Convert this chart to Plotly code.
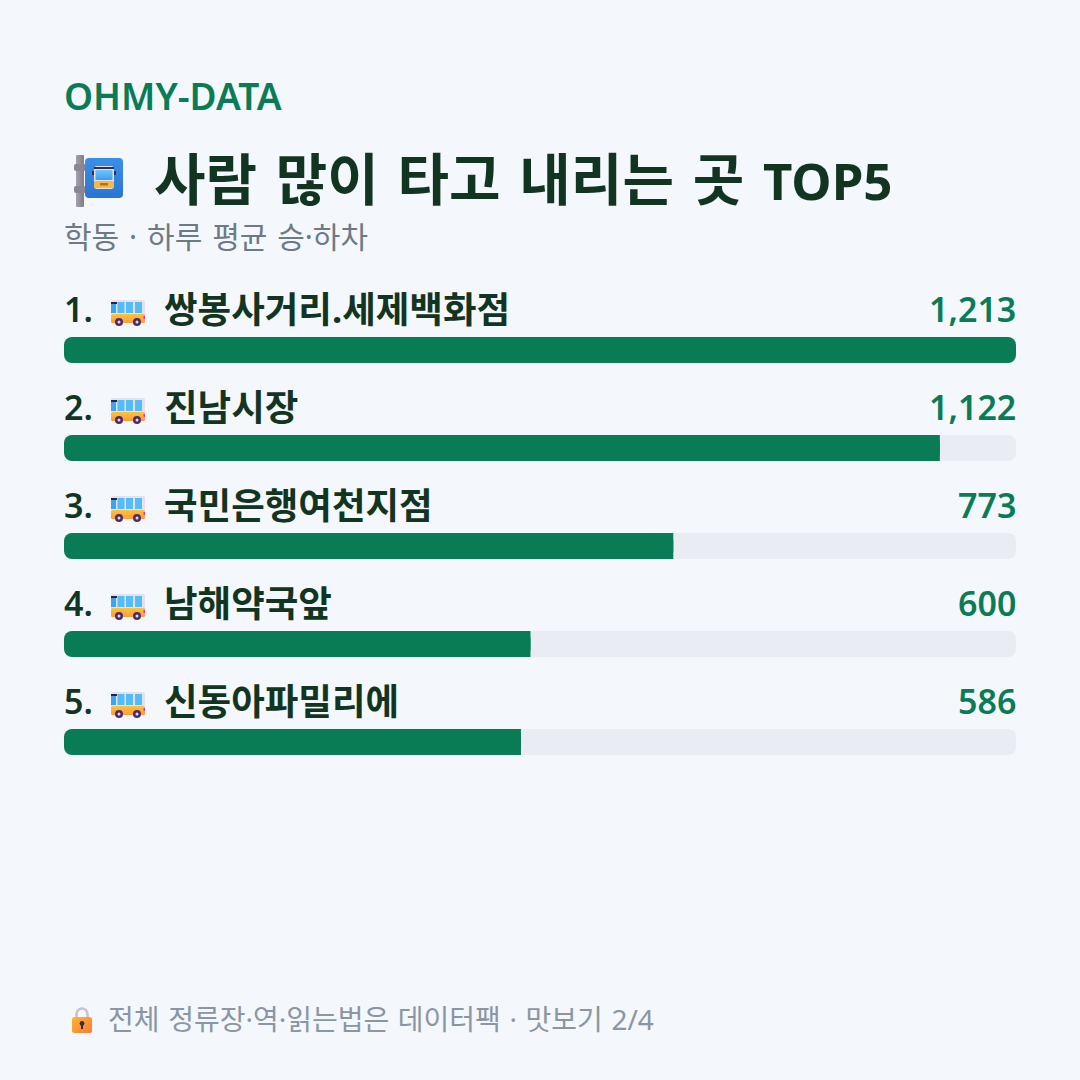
import base64
import plotly.graph_objects as go

# Stop data
ranks = ["1.", "2.", "3.", "4.", "5."]
stops = ["쌍봉사거리.세제백화점", "진남시장", "국민은행여천지점", "남해약국앞", "신동아파밀리에"]
riders = [1213, 1122, 773, 600, 586]

brand = "OHMY-DATA"
title_words = ["사람", "많이", "타고", "내리는", "곳"]
title_tail = "TOP5"
subtitle_words = ["학동", "·", "하루", "평균", "승·하차"]
footer_words = ["전체", "정류장·역·읽는법은", "데이터팩", "·", "맛보기", "2/4"]

BG = "#f4f7fc"
TRACK = "#e9edf3"
GREEN = "#0a7c55"
INK = "#123522"
FONT = "'Noto Sans', 'Noto Sans CJK KR', sans-serif"

W = H = 1080
LEFT, RIGHT = 64, 1016
ROW0, STEP, BAR_H, RADIUS = 350, 98, 26, 8
SQUARE_END = 2  # share units, wide enough to hide the rounding at the end of a fill

# Bars are scaled to whole percentages of the busiest stop
shares = [round(100 * v / max(riders)) for v in riders]


def px(x):
    return x / W


def py(y):
    return 1 - y / H


def spaced(words, gap_size):
    """Join words with spaces set at their own size, for wider word gaps."""
    gap = f'<span style="font-size:{gap_size}px"> </span>'
    return gap.join(words)


def svg_uri(body, vw, vh):
    svg = f'<svg xmlns="http://www.w3.org/2000/svg" viewBox="0 0 {vw} {vh}">{body}</svg>'
    return "data:image/svg+xml;base64," + base64.b64encode(svg.encode()).decode()


BUS = svg_uri(
    '<defs><linearGradient id="b" x1="0" y1="0" x2="0" y2="1"><stop offset="0" stop-color="#ffc23c"/>'
    '<stop offset="1" stop-color="#ff9a3c"/></linearGradient></defs>'
    '<rect x="0" y="0" width="34" height="18" rx="2" fill="#e6dff0"/>'
    '<rect x="0" y="14" width="34" height="9" rx="1.5" fill="url(#b)"/>'
    '<rect x="0" y="2" width="6" height="2" fill="#2c2340"/>'
    '<rect x="0" y="4" width="5" height="9" fill="#37a6f5"/>'
    '<rect x="6.5" y="2" width="7" height="11" fill="#54bdf8"/>'
    '<rect x="15" y="2" width="7" height="11" fill="#54bdf8"/>'
    '<rect x="24" y="2" width="7" height="11" fill="#54bdf8"/>'
    '<rect x="32.5" y="16" width="1.5" height="3" fill="#e0359a"/>'
    '<circle cx="8" cy="22" r="4" fill="#4a2c6e"/><circle cx="8" cy="22" r="1.5" fill="#e8d8c0"/>'
    '<circle cx="26" cy="22" r="4" fill="#4a2c6e"/><circle cx="26" cy="22" r="1.5" fill="#e8d8c0"/>',
    34, 27,
)

STOP_SIGN = svg_uri(
    '<defs><linearGradient id="p" x1="0" y1="0" x2="1" y2="0"><stop offset="0" stop-color="#a5a1ad"/>'
    '<stop offset="1" stop-color="#807c8a"/></linearGradient>'
    '<linearGradient id="s" x1="0" y1="0" x2="0" y2="1"><stop offset="0" stop-color="#3b90e6"/>'
    '<stop offset="1" stop-color="#2a74d2"/></linearGradient>'
    '<linearGradient id="g" x1="0" y1="0" x2="0" y2="1"><stop offset="0" stop-color="#6cc6fa"/>'
    '<stop offset="1" stop-color="#3f9ff0"/></linearGradient></defs>'
    '<rect x="2" y="0" width="8" height="52" rx="1" fill="url(#p)"/>'
    '<rect x="0" y="9" width="12" height="7" rx="2" fill="#8a8692"/>'
    '<rect x="0" y="31" width="12" height="7" rx="2" fill="#8a8692"/>'
    '<rect x="11" y="3" width="38" height="40" rx="4" fill="url(#s)"/>'
    '<rect x="20" y="11" width="20" height="23" rx="3" fill="#e6dff0"/>'
    '<rect x="20" y="12" width="20" height="2" fill="#3a2c50"/>'
    '<rect x="21.5" y="15" width="17" height="10" fill="url(#g)"/>'
    '<rect x="20" y="26" width="20" height="7" rx="1.5" fill="#f6b93b"/>'
    '<rect x="26" y="28" width="8" height="2.5" fill="#a8752a"/>'
    '<rect x="18" y="16" width="2" height="4" fill="#3a2c50"/>'
    '<rect x="40" y="16" width="2" height="4" fill="#3a2c50"/>',
    50, 52,
)

LOCK = svg_uri(
    '<defs><linearGradient id="l" x1="0" y1="0" x2="1" y2="1"><stop offset="0" stop-color="#ffb52e"/>'
    '<stop offset="1" stop-color="#fb7a3c"/></linearGradient></defs>'
    '<path d="M4.5 12 V7 a5.5 5.5 0 0 1 11 0 V12" fill="none" stroke="#c9c2cf" stroke-width="2.6"/>'
    '<rect x="0" y="10" width="20" height="16" rx="2.5" fill="url(#l)"/>'
    '<circle cx="10" cy="16.5" r="2.4" fill="#3a2c50"/><rect x="9" y="17" width="2" height="5" fill="#3a2c50"/>',
    20, 26,
)

fig = go.Figure()
bar_width = BAR_H / STEP

# Track, rounded at both ends
fig.add_bar(y=stops, x=[100] * 5, base=[0] * 5, orientation="h", width=bar_width,
            marker=dict(color=TRACK, cornerradius=RADIUS, line_width=0), hoverinfo="skip")

# Fill, rounded at both ends like the track
fig.add_bar(y=stops, x=shares, base=[0] * 5, orientation="h", width=bar_width,
            marker=dict(color=GREEN, cornerradius=RADIUS, line_width=0),
            customdata=riders, hovertemplate="%{y}: %{customdata:,}<extra></extra>")

# Shorter fills end square: only a fill reaching the track's end keeps the rounding
short = [(n, s) for n, s in zip(stops, shares) if s < 100]
fig.add_bar(y=[n for n, _ in short],
            x=[SQUARE_END for _ in short],
            base=[s - SQUARE_END for _, s in short],
            orientation="h", width=bar_width,
            marker=dict(color=GREEN, cornerradius=0, line_width=0), hoverinfo="skip")

annotations = []


def page_text(x, y, text, size, color, weight=400, anchor="left"):
    annotations.append(dict(xref="paper", yref="paper", x=px(x), y=py(y), text=text, showarrow=False,
                            xanchor=anchor, yanchor="middle", align=anchor,
                            font=dict(family=FONT, size=size, color=color, weight=weight)))


def row_text(cat, x, text, size, color, weight=700, anchor="left"):
    annotations.append(dict(xref="paper", yref="y", x=px(x), y=cat, yshift=41, text=text, showarrow=False,
                            xanchor=anchor, yanchor="middle", align=anchor,
                            font=dict(family=FONT, size=size, color=color, weight=weight)))


page_text(62, 95, brand, 37, GREEN, 600)
page_text(152, 172,
          spaced(title_words, 72) + f'<span style="font-size:72px"> </span><span style="font-size:51px">{title_tail}</span>',
          56, INK, 700)
page_text(62, 233, spaced(subtitle_words, 38), 30, "#6c7a86")
page_text(106, 1017, spaced(footer_words, 33), 28, "#8a96a3")

images = [
    dict(source=STOP_SIGN, xref="paper", yref="paper", x=px(74), y=py(155), sizex=px(50), sizey=52 / H,
         xanchor="left", yanchor="top", sizing="stretch", layer="above"),
    dict(source=LOCK, xref="paper", yref="paper", x=px(72), y=py(1007), sizex=px(20), sizey=26 / H,
         xanchor="left", yanchor="top", sizing="stretch", layer="above"),
]

for rank, name, value, i in zip(ranks, stops, riders, range(len(stops))):
    row_text(name, 62, rank, 34, INK, 600)
    row_text(name, 162, name, 36.5, INK, 700)
    row_text(name, RIGHT + 2, f"{value:,}", 34, GREEN, 600, "right")
    images.append(dict(source=BUS, xref="paper", yref="paper", x=px(111), y=py(ROW0 + STEP * i - 50),
                       sizex=px(34), sizey=27 / H, xanchor="left", yanchor="top",
                       sizing="stretch", layer="above"))

fig.update_layout(
    width=W, height=H,
    margin=dict(l=0, r=0, t=0, b=0),
    paper_bgcolor=BG, plot_bgcolor=BG,
    barmode="overlay", showlegend=False,
    annotations=annotations, images=images,
    xaxis=dict(domain=[px(LEFT), px(RIGHT)], range=[0, 100], visible=False, fixedrange=True),
    yaxis=dict(domain=[py(ROW0 + STEP * 4.5), py(ROW0 - STEP * 0.5)], type="category",
               categoryorder="array", categoryarray=stops, range=[4.5, -0.5],
               visible=False, fixedrange=True),
)

fig.write_html("out.html", config=dict(displayModeBar=False))
